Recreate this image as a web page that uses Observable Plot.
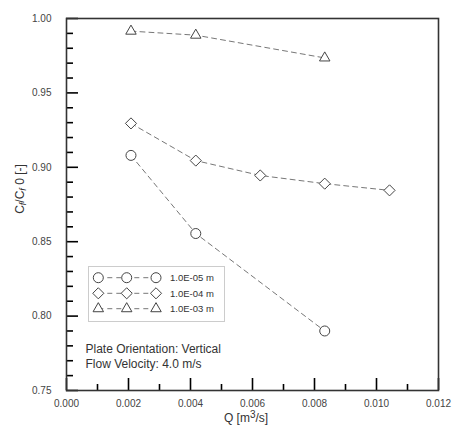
<!DOCTYPE html>
<html>
<head>
<meta charset="utf-8">
<script src="https://cdn.jsdelivr.net/npm/d3@7"></script>
<script src="https://cdn.jsdelivr.net/npm/@observablehq/plot@0.6"></script>
<style>
  body { margin: 0; background: #fff; }
  #wrap { position: relative; width: 454px; height: 432px; font-family: "Liberation Sans", Arial, sans-serif; color: #333; }
  .ylab { position: absolute; left: 20px; top: 189px; transform: translate(-50%, -50%) rotate(-90deg); font-size: 12px; white-space: nowrap; }
  .xlab { position: absolute; left: 246px; top: 411px; transform: translateX(-50%); font-size: 12px; white-space: nowrap; }
  .xlab sup { font-size: 10px; vertical-align: 4px; line-height: 0; }
  .ylab sub { font-size: 9px; vertical-align: -2px; line-height: 0; font-style: italic; }
  #legend { position: absolute; left: 88px; top: 266px; }
</style>
</head>
<body>
<div id="wrap">
  <div id="chart"></div>
  <div class="ylab">C<sub>f</sub>/C<sub>f</sub> 0 [-]</div>
  <div class="xlab">Q [m<sup>3</sup>/s]</div>
  <div id="legend"></div>
</div>
<script>
// ---- data ----
const seriesNames = ["1.0E-05 m", "1.0E-04 m", "1.0E-03 m"];
const symbols = ["circle", "diamond2", "triangle2"];
const q05 = [0.00208, 0.00417, 0.00833];
const v05 = [0.908, 0.8555, 0.790];
const q04 = [0.00208, 0.00417, 0.00625, 0.00833, 0.01042];
const v04 = [0.9295, 0.9045, 0.8945, 0.889, 0.8845];
const q03 = [0.00208, 0.00417, 0.00833];
const v03 = [0.9915, 0.9888, 0.9735];
const xMajor = [0, 0.002, 0.004, 0.006, 0.008, 0.010, 0.012];
const xMinor = [0.001, 0.003, 0.005, 0.007, 0.009, 0.011];
const yMajor = [0.75, 0.80, 0.85, 0.90, 0.95, 1.00];
const yMinor = [0.76,0.77,0.78,0.79,0.81,0.82,0.83,0.84,0.86,0.87,0.88,0.89,0.91,0.92,0.93,0.94,0.96,0.97,0.98,0.99];
const annotation = "Plate Orientation: Vertical\nFlow Velocity: 4.0 m/s";

const rows = [];
[[q05, v05], [q04, v04], [q03, v03]].forEach(([qs, vs], i) => {
  qs.forEach((q, j) => rows.push({series: seriesNames[i], q, v: vs[j]}));
});

const W = 454, H = 432, mL = 66, mR = 16, mT = 18, mB = 42;
const innerW = W - mL - mR, innerH = H - mT - mB;
const axisColor = "#333";
const tickColor = "black";
const chart = Plot.plot({
  width: W,
  height: H,
  marginLeft: mL,
  marginRight: mR,
  marginTop: mT,
  marginBottom: mB,
  style: {fontFamily: "Liberation Sans, Arial, sans-serif", fontSize: "10px", color: axisColor, background: "white"},
  x: {domain: [0, 0.012]},
  y: {domain: [0.75, 1.0]},
  symbol: {domain: seriesNames, range: symbols},
  marks: [
    Plot.axisX(xMajor, {tickSize: 0, tickPadding: 9, tickFormat: d3.format(".3f"), label: null, fill: "#444"}),
    Plot.axisY(yMajor, {tickSize: 0, tickPadding: 15, tickFormat: d3.format(".2f"), label: null, fill: "#444"}),
    Plot.tickX(xMajor, {x: d => d, insetTop: innerH - 12, stroke: tickColor, strokeWidth: 1.6}),
    Plot.tickX(xMinor, {x: d => d, insetTop: innerH - 6, stroke: tickColor, strokeWidth: 1.6}),
    Plot.tickY(yMajor, {y: d => d, insetRight: innerW - 12, stroke: tickColor, strokeWidth: 1.6}),
    Plot.tickY(yMinor, {y: d => d, insetRight: innerW - 7, stroke: tickColor, strokeWidth: 1.6}),
    Plot.frame({stroke: axisColor, strokeWidth: 1.6}),
    Plot.line(rows, {x: "q", y: "v", z: "series", stroke: "#777", strokeWidth: 1, strokeDasharray: "5,4"}),
    Plot.dot(rows, {x: "q", y: "v", symbol: "series", r: 5, stroke: "#444", strokeWidth: 1, fill: "white"}),
    Plot.text([annotation], {text: d => d, frameAnchor: "bottom-left", textAnchor: "start", lineAnchor: "bottom", dx: 19, dy: -23, fontSize: 12, lineHeight: 1.22, fill: "#333"})
  ]
});
document.getElementById("chart").appendChild(chart);

// ---- legend ----
const lw = 137, lh = 56;
const leg = d3.select("#legend").append("svg").attr("width", lw).attr("height", lh)
  .style("font-family", "Liberation Sans, Arial, sans-serif");
leg.append("rect").attr("x", 0.5).attr("y", 0.5).attr("width", lw - 1).attr("height", lh - 1)
  .attr("fill", "white").attr("stroke", "#ccc");
const d3sym = {circle: d3.symbolCircle, diamond2: d3.symbolDiamond2, triangle2: d3.symbolTriangle2};
const rowY = [11.7, 27.3, 42.7];
const mx = [10.3, 38.7, 68];
seriesNames.forEach((name, i) => {
  const g = leg.append("g");
  g.append("line").attr("x1", mx[0]).attr("x2", mx[2]).attr("y1", rowY[i]).attr("y2", rowY[i])
    .attr("stroke", "#777").attr("stroke-dasharray", "5,4");
  mx.forEach(x => {
    g.append("path").attr("d", d3.symbol(d3sym[symbols[i]], 25 * Math.PI)())
      .attr("transform", `translate(${x},${rowY[i]})`)
      .attr("fill", "white").attr("stroke", "#444");
  });
  g.append("text").attr("x", 82).attr("y", rowY[i]).attr("dy", "0.35em")
    .attr("font-size", 9.5).attr("fill", "#333").text(name);
});
</script>
</body>
</html>
